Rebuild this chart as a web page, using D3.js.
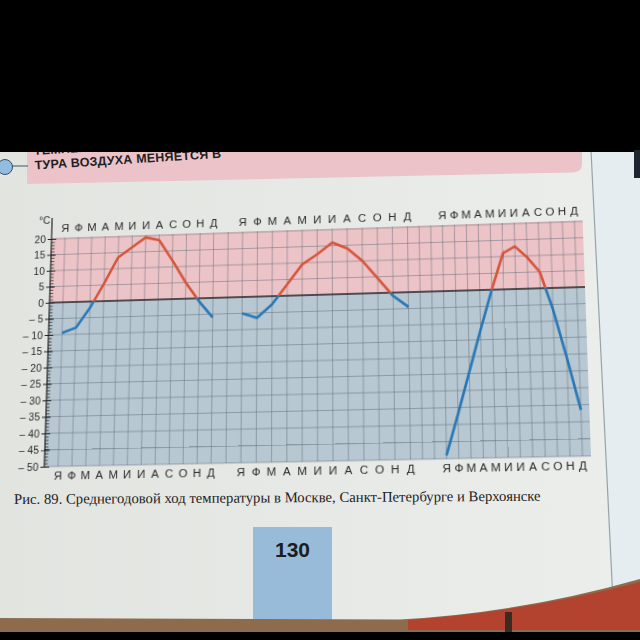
<!DOCTYPE html>
<html>
<head>
<meta charset="utf-8">
<script src="https://cdn.jsdelivr.net/npm/d3@7"></script>
<style>
html,body{margin:0;padding:0;background:#000;overflow:hidden}
#stage{position:relative;width:640px;height:640px}
#bg{position:absolute;left:0;top:0}
#chartWrap{position:absolute;left:0;top:0;transform-origin:0 0}
svg{display:block}
</style>
</head>
<body>
<div id="stage">
  <svg id="bg" width="640" height="640"></svg>
  <div id="chartWrap"><svg id="chart"></svg></div>
</div>
<script>
// ---------------- DATA ----------------
const months = ["Я","Ф","М","А","М","И","И","А","С","О","Н","Д"];
const cityNames = ["Москва", "Санкт-Петербург", "Верхоянск"];
const moscowTemps       = [-9.5, -8, -2, 5.5, 13.5, 16.5, 19.5, 18.5, 12, 5, -1, -6];
const stPetersburgTemps = [-5, -6.5, -2.5, 3.5, 9.5, 12.5, 16, 14, 10, 4.5, -1, -4.5];
const verkhoyanskTemps  = [-49, -37, -24.5, -12, 0, 11, 13, 9.5, 5, -6.5, -21, -36.5];
const yTickValues = [20, 15, 10, 5, 0, -5, -10, -15, -20, -25, -30, -35, -40, -45, -50];
const unitLabel = "°C";
const captionText = "Рис. 89. Среднегодовой ход температуры в Москве, Санкт-Петербурге и Верхоянске";
const headerLines = ["ТЕМПЕРА-", "ТУРА ВОЗДУХА МЕНЯЕТСЯ В"];
const pageNumber = "130";

const seriesList = [moscowTemps, stPetersburgTemps, verkhoyanskTemps];

// ---------------- LAYOUT / STYLE ----------------
const PINK = "#ecc3c7", BLUEBG = "#b7c8d2", RED = "#d6553b", BLUE = "#2877b7";
const FONT = "'Liberation Sans', Arial, sans-serif";
const panelOffset = [0, 13, 27];
const CW = 640, CH = 340, ox = 48, oy = 40, W = 540, H = 232;
const yTop = 20.3, yBottom = -50;

const x = d3.scaleLinear()
  .domain([-0.8, 0, 11, 13, 24, 27, 38, 38.8])
  .range([0, .026, .312, .367, .677, .742, .985, 1].map(f => f * W));
const y = d3.scaleLinear().domain([yBottom, yTop]).range([H, 0]);

// ---------------- CHART ----------------
const svg = d3.select("#chart").attr("width", CW).attr("height", CH);
const defs = svg.append("defs");
defs.append("clipPath").attr("id", "clipAbove").append("rect")
  .attr("x", -20).attr("y", -60).attr("width", W + 40).attr("height", y(0) + 60);
defs.append("clipPath").attr("id", "clipBelow").append("rect")
  .attr("x", -20).attr("y", y(0)).attr("width", W + 40).attr("height", H - y(0) + 60);

const g = svg.append("g").attr("transform", `translate(${ox},${oy})`);

g.append("rect").attr("x", 0).attr("y", y(yTop)).attr("width", W)
  .attr("height", y(0) - y(yTop)).attr("fill", PINK);
g.append("rect").attr("x", 0).attr("y", y(0)).attr("width", W)
  .attr("height", y(yBottom) - y(0)).attr("fill", BLUEBG);

// grid
g.append("g").selectAll("line").data(d3.range(-50, 21, 5)).join("line")
  .attr("x1", 0).attr("x2", W).attr("y1", d => y(d)).attr("y2", d => y(d))
  .attr("stroke", "#5f6d77").attr("stroke-opacity", 0.55).attr("stroke-width", 0.9);
g.append("g").selectAll("line").data(d3.range(0, 39)).join("line")
  .attr("x1", d => x(d)).attr("x2", d => x(d)).attr("y1", y(yTop)).attr("y2", y(yBottom))
  .attr("stroke", "#5f6d77").attr("stroke-opacity", 0.55).attr("stroke-width", 0.9);

// zero line
g.append("line").attr("x1", 0).attr("x2", W).attr("y1", y(0)).attr("y2", y(0))
  .attr("stroke", "#2b2b2b").attr("stroke-width", 1.3);

// axis
const fmt = d => d < 0 ? "\u2013 " + Math.abs(d) : String(d);
const axL = g.append("g").call(d3.axisLeft(y).tickValues(yTickValues).tickSize(4)
  .tickSizeOuter(0).tickPadding(2).tickFormat(fmt));
axL.select(".domain").remove();
axL.selectAll("text").attr("font-family", FONT).attr("font-size", 10.5).attr("fill", "#2a2a2a");
axL.selectAll("line").attr("stroke", "#222");
const axMinor = g.append("g").call(d3.axisRight(y).tickValues(d3.range(-50, 21, 1))
  .tickSize(3.5).tickSizeOuter(0).tickFormat(""));
axMinor.select(".domain").remove();
axMinor.selectAll("line").attr("stroke", "#222").attr("stroke-width", 0.8);
const axMajor = g.append("g").call(d3.axisRight(y).tickValues(yTickValues)
  .tickSize(5).tickSizeOuter(0).tickFormat(""));
axMajor.select(".domain").remove();
axMajor.selectAll("line").attr("stroke", "#222").attr("stroke-width", 1);
g.append("line").attr("x1", 0).attr("x2", 0).attr("y1", y(yTop) - 21).attr("y2", y(yBottom))
  .attr("stroke", "#1f1f1f").attr("stroke-width", 1.2);
g.append("text").attr("x", -2).attr("y", y(yTop) - 15).attr("text-anchor", "end")
  .attr("font-family", FONT).attr("font-size", 10.5).attr("fill", "#2a2a2a").text(unitLabel);

// month labels
const monthCells = [];
panelOffset.forEach((off, c) => months.forEach((m, i) => monthCells.push({m, i: off + i})));
g.append("g").selectAll("text").data(monthCells).join("text")
  .attr("x", d => x(d.i)).attr("y", y(yTop) - 6).attr("text-anchor", "middle")
  .attr("font-family", FONT).attr("font-size", 11.5).attr("fill", "#2a2a2a").text(d => d.m);
g.append("g").selectAll("text").data(monthCells).join("text")
  .attr("x", d => x(d.i)).attr("y", y(yBottom) + 13).attr("text-anchor", "middle")
  .attr("font-family", FONT).attr("font-size", 11.5).attr("fill", "#2a2a2a").text(d => d.m);

// temperature lines: red above 0, blue below
const lineGen = off => d3.line().x((d, i) => x(off + i)).y(d => y(d));
seriesList.forEach((vals, c) => {
  const gen = lineGen(panelOffset[c]);
  [["clipBelow", BLUE], ["clipAbove", RED]].forEach(([clip, col]) => {
    g.append("path").datum(vals).attr("d", gen).attr("clip-path", `url(#${clip})`)
      .attr("fill", "none").attr("stroke", col).attr("stroke-width", 2.6)
      .attr("stroke-linejoin", "round").attr("stroke-linecap", "butt")
      .attr("data-city", cityNames[c]);
  });
});

// perspective (photo of a book page): homography from plot rect to the photographed quad
function squareToQuad(q) {
  const [x0, y0] = q[0], [x1, y1] = q[1], [x2, y2] = q[2], [x3, y3] = q[3];
  const dx1 = x1 - x2, dx2 = x3 - x2, dx3 = x0 - x1 + x2 - x3;
  const dy1 = y1 - y2, dy2 = y3 - y2, dy3 = y0 - y1 + y2 - y3;
  const den = dx1 * dy2 - dx2 * dy1;
  const gg = (dx3 * dy2 - dx2 * dy3) / den, hh = (dx1 * dy3 - dx3 * dy1) / den;
  return [[x1 - x0 + gg * x1, x3 - x0 + hh * x3, x0],
          [y1 - y0 + gg * y1, y3 - y0 + hh * y3, y0],
          [gg, hh, 1]];
}
function mul(A, B) {
  return A.map((r, i) => B[0].map((_, j) => r.reduce((s, v, k) => s + v * B[k][j], 0)));
}
const quad = [[49.5, 302.7], [585, 287], [591, 456], [44.3, 466.7]];
const xL = ox, xR = ox + W, yT = oy + y(0), yB = oy + y(-50);
const N = [[1 / (xR - xL), 0, -xL / (xR - xL)], [0, 1 / (yB - yT), -yT / (yB - yT)], [0, 0, 1]];
const M = mul(squareToQuad(quad), N);
d3.select("#chartWrap").style("width", CW + "px").style("height", CH + "px")
  .style("transform", `matrix3d(${M[0][0]},${M[1][0]},0,${M[2][0]},${M[0][1]},${M[1][1]},0,${M[2][1]},0,0,1,0,${M[0][2]},${M[1][2]},0,${M[2][2]})`);

// ---------------- PAGE ----------------
const bg = d3.select("#bg");
const bdefs = bg.append("defs");
const grad = bdefs.append("linearGradient").attr("id", "pageGrad");
grad.append("stop").attr("offset", 0).attr("stop-color", "#e2e4e0");
grad.append("stop").attr("offset", 1).attr("stop-color", "#eceeec");
bg.append("rect").attr("width", 640).attr("height", 640).attr("fill", "url(#pageGrad)");
bg.append("path").attr("d", "M591,150 L640,150 L640,640 L614,640 Z").attr("fill", "#e6edf1");
bg.append("path").attr("d", "M591,150 L614,622").attr("stroke", "#98a3a9").attr("stroke-width", 1.2);

// header band
bg.append("path").attr("d", "M27,140 L582,140 L582,164 Q582,172 573,172.5 L27,184 Z").attr("fill", "#edc3ca");
const hg = bg.append("g").attr("transform", "rotate(-3.6,35,170)");
hg.selectAll("text").data(headerLines).join("text")
  .attr("x", 35).attr("y", (d, i) => 155 + i * 14.5)
  .attr("font-family", FONT).attr("font-weight", "bold").attr("font-size", 12.5)
  .attr("letter-spacing", 0.2).attr("fill", "#1f1f1f").text(d => d);
bg.append("line").attr("x1", 12).attr("x2", 28).attr("y1", 166).attr("y2", 166)
  .attr("stroke", "#3a5570").attr("stroke-width", 1);
bg.append("circle").attr("cx", 5).attr("cy", 167).attr("r", 7.5)
  .attr("fill", "#93bde0").attr("stroke", "#34506b").attr("stroke-width", 1);

// caption
const cap = bg.append("text").attr("x", 14).attr("y", 504)
  .attr("transform", "rotate(-0.35,14,504)")
  .attr("font-family", "'Liberation Serif', 'Times New Roman', serif")
  .attr("font-size", 13).attr("fill", "#222").text(captionText);
const capLen = cap.node().getComputedTextLength();
cap.attr("font-size", 13 * 527 / capLen);

// page number box
bg.append("rect").attr("x", 253).attr("y", 527).attr("width", 79).attr("height", 95).attr("fill", "#97bbd9");
bg.append("text").attr("x", 292.5).attr("y", 557).attr("text-anchor", "middle")
  .attr("font-family", FONT).attr("font-weight", "bold").attr("font-size", 21)
  .attr("fill", "#1d1d1d").text(pageNumber);

// table / bottom
bg.append("path").attr("d", "M0,618 L400,619.5 Q520,613 640,579 L640,640 L0,640 Z").attr("fill", "#8c6c4c");
bg.append("path").attr("d", "M408,620 Q525,612 640,582 L640,630 L408,630 Z").attr("fill", "#b3432f");
bg.append("rect").attr("x", 505).attr("y", 612).attr("width", 7).attr("height", 22).attr("fill", "#3b2b22");
bg.append("rect").attr("x", 0).attr("y", 632).attr("width", 640).attr("height", 8).attr("fill", "#000");
// top black band
bg.append("rect").attr("x", 0).attr("y", 0).attr("width", 640).attr("height", 152).attr("fill", "#000");
bg.append("rect").attr("x", 634).attr("y", 150).attr("width", 6).attr("height", 28).attr("fill", "#1c2430");
</script>
</body>
</html>
